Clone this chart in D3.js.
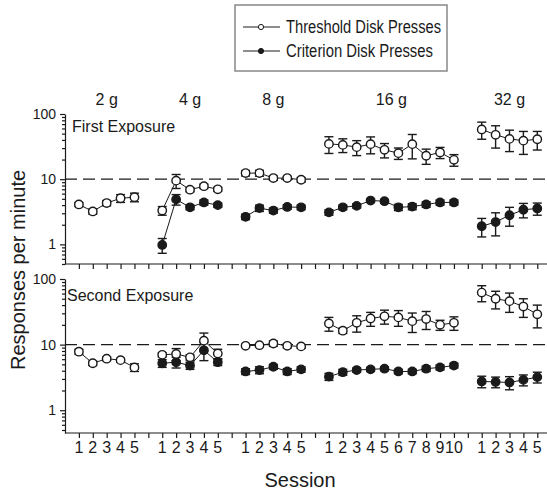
<!DOCTYPE html>
<html>
<head>
<meta charset="utf-8">
<script src="https://cdn.jsdelivr.net/npm/d3@7"></script>
<style>
  body { margin: 0; background: #fff; }
  svg { display: block; font-family: "Liberation Sans", Arial, Helvetica, sans-serif; }
</style>
</head>
<body>
<svg id="chart" width="547" height="494"></svg>
<script>
// groups of sessions (body weight of the disk force)
const groups = ['2 g', '4 g', '8 g', '16 g', '32 g'];
const sessionsPerGroup = [5, 5, 5, 10, 5];

// First exposure
const firstThreshold = [
  [4.1, 3.2, 4.3, 5.1, 5.3],
  [3.3, 9.5, 6.9, 7.8, 7.0],
  [12.4, 12.4, 10.4, 10.4, 9.8],
  [34.8, 33.6, 31, 34.5, 28.2, 25.1, 34.5, 22.9, 25.7, 19.8],
  [58, 48, 41.5, 39, 41]
];
const firstThresholdErr = [
  [0.3, 0.3, 0.4, 0.7, 0.8],
  [0.5, 2.3, 0.5, 0.6, 0.5],
  [1.2, 1.3, 0.8, 0.6, 0.8],
  [10, 8, 8, 10, 7, 5, 14, 6, 5, 4],
  [17, 18, 15, 15, 13]
];
const firstCriterion = [
  null,
  [0.98, 4.9, 3.7, 4.4, 4.0],
  [2.65, 3.6, 3.3, 3.75, 3.7],
  [3.1, 3.7, 3.9, 4.7, 4.6, 3.7, 3.8, 4.1, 4.4, 4.4],
  [1.9, 2.2, 2.8, 3.4, 3.55]
];
const firstCriterionErr = [
  null,
  [0.25, 0.9, 0.3, 0.4, 0.3],
  [0.25, 0.4, 0.3, 0.3, 0.3],
  [0.3, 0.3, 0.3, 0.3, 0.3, 0.4, 0.4, 0.4, 0.4, 0.4],
  [0.6, 0.85, 0.9, 0.85, 0.75]
];

// Second exposure
const secondThreshold = [
  [7.8, 5.2, 6.1, 5.8, 4.5],
  [7.0, 7.2, 6.4, 11.5, 7.3],
  [9.6, 9.8, 10.4, 9.6, 9.4],
  [21, 16.3, 21.5, 25, 27, 26, 22.8, 24.5, 20, 21.5],
  [62, 50, 46, 38, 29]
];
const secondThresholdErr = [
  [0.7, 0.4, 0.4, 0.4, 0.6],
  [0.5, 1.5, 0.6, 3.5, 1.2],
  [0.5, 0.5, 1.0, 0.7, 0.6],
  [5, 1.5, 6, 6, 6.5, 7, 7.5, 7.5, 3.5, 5],
  [17, 15, 15, 12, 11]
];
const secondCriterion = [
  null,
  [5.2, 5.4, 4.8, 8.2, 5.4],
  [3.9, 4.1, 4.6, 3.9, 4.2],
  [3.25, 3.8, 4.1, 4.2, 4.3, 3.9, 3.9, 4.3, 4.5, 4.8],
  [2.75, 2.7, 2.65, 2.9, 3.2]
];
const secondCriterionErr = [
  null,
  [0.7, 1.0, 0.6, 2.5, 0.6],
  [0.4, 0.5, 0.4, 0.4, 0.4],
  [0.4, 0.4, 0.3, 0.3, 0.3, 0.3, 0.3, 0.4, 0.4, 0.4],
  [0.55, 0.5, 0.6, 0.55, 0.6]
];

const yTickValues = [1, 10, 100];
const criterionLevel = 10;

const svg = d3.select('#chart');
const ink = '#1a1a1a';

// session slot positions: one empty slot between groups
const groupStart = [];
let pos = 1;
sessionsPerGroup.forEach((n) => {
  groupStart.push(pos);
  pos += n + 1;
});
const lastSlot = pos - 2;

const x = d3.scaleLinear().domain([0, 34.7]).range([65, 547]);

const panels = [
  {
    label: 'First Exposure',
    y: d3.scaleLog().domain([0.5, 100]).range([264, 114]),
    threshold: firstThreshold, thresholdErr: firstThresholdErr,
    criterion: firstCriterion, criterionErr: firstCriterionErr,
    labelX: 72, labelY: 132
  },
  {
    label: 'Second Exposure',
    y: d3.scaleLog().domain([0.45, 100]).range([433, 279]),
    threshold: secondThreshold, thresholdErr: secondThresholdErr,
    criterion: secondCriterion, criterionErr: secondCriterionErr,
    labelX: 67, labelY: 301
  }
];

function toPoints(values, errs) {
  const out = [];
  values.forEach((vals, g) => {
    if (!vals) return;
    out.push(vals.map((v, i) => ({ slot: groupStart[g] + i, v, e: errs[g][i] })));
  });
  return out;
}

panels.forEach((p) => {
  const y = p.y;
  const [yBottom] = y.range();
  const g = svg.append('g');

  // criterion reference line
  g.append('line')
    .attr('x1', x(0)).attr('x2', 547)
    .attr('y1', y(criterionLevel)).attr('y2', y(criterionLevel))
    .attr('stroke', ink).attr('stroke-width', 1.3)
    .attr('stroke-dasharray', '12,6');

  // y axis, major and minor ticks
  const minor = [];
  [0.1, 1, 10].forEach((d) => {
    for (let k = 2; k <= 9; k++) {
      const v = d * k;
      if (v >= y.domain()[0] && v < 100) minor.push(v);
    }
  });
  g.append('g')
    .attr('transform', `translate(${x(0)},0)`)
    .call(d3.axisLeft(y).tickValues(minor).tickSize(3).tickFormat(''))
    .call((s) => s.select('.domain').remove());
  const yAxis = g.append('g')
    .attr('transform', `translate(${x(0)},0)`)
    .call(d3.axisLeft(y).tickValues(yTickValues).tickSize(5).tickSizeOuter(0)
      .tickFormat(d3.format('d')));
  yAxis.selectAll('text').attr('font-size', 14).attr('dx', '-1').attr('fill', ink);

  // x axis
  const slots = d3.range(1, lastSlot + 2);
  const xAxis = g.append('g')
    .attr('transform', `translate(0,${yBottom})`)
    .call(d3.axisBottom(x).tickValues(slots).tickSize(5).tickSizeOuter(0).tickFormat(''));
  xAxis.select('.domain').attr('d', `M${x(0)},0H547`);

  svg.selectAll('.domain, .tick line').attr('stroke', ink).attr('stroke-width', 1.2);

  g.append('text')
    .attr('x', p.labelX)
    .attr('y', p.labelY)
    .attr('font-size', 16).attr('fill', ink)
    .text(p.label);

  const line = d3.line().x((d) => x(d.slot)).y((d) => y(d.v));

  const drawSeries = (sets, filled) => {
    sets.forEach((pts) => {
      g.append('path').datum(pts)
        .attr('d', line).attr('fill', 'none')
        .attr('stroke', ink).attr('stroke-width', 1);
      const bars = g.selectAll(null).data(pts).enter().append('g')
        .attr('stroke', ink).attr('stroke-width', 1.4);
      bars.append('line')
        .attr('x1', (d) => x(d.slot)).attr('x2', (d) => x(d.slot))
        .attr('y1', (d) => y(d.v + d.e)).attr('y2', (d) => y(Math.max(d.v - d.e, 0.05)));
      [1, -1].forEach((sgn) => {
        bars.append('line')
          .attr('x1', (d) => x(d.slot) - 4.5).attr('x2', (d) => x(d.slot) + 4.5)
          .attr('y1', (d) => y(Math.max(d.v + sgn * d.e, 0.05)))
          .attr('y2', (d) => y(Math.max(d.v + sgn * d.e, 0.05)));
      });
      g.selectAll(null).data(pts).enter().append('circle')
        .attr('cx', (d) => x(d.slot)).attr('cy', (d) => y(d.v))
        .attr('r', 4.2)
        .attr('fill', filled ? ink : '#fff')
        .attr('stroke', ink).attr('stroke-width', 1.4);
    });
  };

  drawSeries(toPoints(p.criterion, p.criterionErr), true);
  drawSeries(toPoints(p.threshold, p.thresholdErr), false);
});

// session tick labels under the lower panel
const sessionLabels = [];
sessionsPerGroup.forEach((n, gi) => {
  for (let i = 0; i < n; i++) sessionLabels.push({ slot: groupStart[gi] + i, t: String(i + 1) });
});
svg.append('g').selectAll('text').data(sessionLabels).enter().append('text')
  .attr('x', (d) => x(d.slot)).attr('y', 453)
  .attr('text-anchor', 'middle').attr('font-size', 16).attr('fill', ink)
  .text((d) => d.t);

// group labels above the upper panel
svg.append('g').selectAll('text').data(groups).enter().append('text')
  .attr('x', (d, i) => (x(groupStart[i]) + x(groupStart[i] + sessionsPerGroup[i] - 1)) / 2)
  .attr('y', 105)
  .attr('text-anchor', 'middle').attr('font-size', 16).attr('fill', ink)
  .text((d) => d);

// axis titles
svg.append('text')
  .attr('x', 300).attr('y', 487)
  .attr('text-anchor', 'middle').attr('font-size', 20).attr('fill', ink)
  .text('Session');
svg.append('text')
  .attr('transform', 'translate(25,270) rotate(-90)')
  .attr('text-anchor', 'middle').attr('font-size', 20).attr('fill', ink)
  .text('Responses per minute');

// legend
const legend = svg.append('g');
legend.append('rect')
  .attr('x', 235).attr('y', 5).attr('width', 212).attr('height', 66)
  .attr('fill', '#fff').attr('stroke', '#888').attr('stroke-width', 1.5);
const legendItems = [
  { name: 'Threshold Disk Presses', filled: false },
  { name: 'Criterion Disk Presses', filled: true }
];
legendItems.forEach((d, i) => {
  const cy = 27 + i * 24;
  legend.append('line')
    .attr('x1', 243).attr('x2', 280).attr('y1', cy).attr('y2', cy)
    .attr('stroke', ink).attr('stroke-width', 1);
  legend.append('circle')
    .attr('cx', 261).attr('cy', cy).attr('r', 2.6)
    .attr('fill', d.filled ? ink : '#fff').attr('stroke', ink).attr('stroke-width', 1);
  legend.append('text')
    .attr('x', 286).attr('y', cy + 6)
    .attr('font-size', 18).attr('fill', ink)
    .attr('textLength', d.filled ? 147 : 155).attr('lengthAdjust', 'spacingAndGlyphs')
    .text(d.name);
});
</script>
</body>
</html>
